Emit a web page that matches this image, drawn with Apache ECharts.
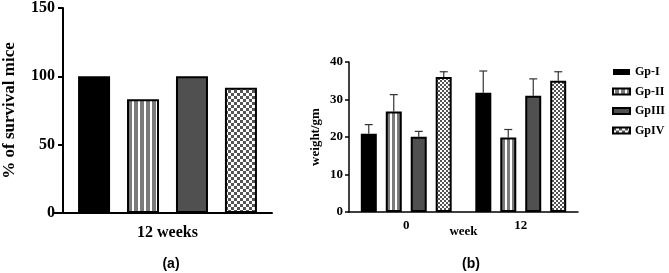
<!DOCTYPE html>
<html>
<head>
<meta charset="utf-8">
<script src="https://cdn.jsdelivr.net/npm/echarts@6/dist/echarts.min.js"></script>
<style>
  html, body { margin: 0; padding: 0; background: #fff; }
  #chart { width: 669px; height: 273px; }
</style>
</head>
<body>
<div id="chart"></div>
<script>
// groups shared by both panels
var groups = ["Gp-I", "Gp-II", "GpIII", "GpIV"];

// (a) survival
var survivalCategory = ["12 weeks"];
var survivalValues = [100, 83.3, 100, 91.7];
var survivalTicks = [0, 50, 100, 150];

// (b) body weight, mean and upper error per group at each week
var weightWeeks = ["0", "12"];
var weightMean = [
  [20.9, 31.8],
  [26.8, 19.9],
  [20.1, 31.0],
  [36.0, 35.0]
];
var weightErr = [
  [2.4, 5.8],
  [4.5, 2.1],
  [1.4, 4.5],
  [1.4, 2.4]
];

function stripePattern(period, white) {
  var c = document.createElement("canvas");
  c.width = period;
  c.height = 4;
  var ctx = c.getContext("2d");
  ctx.fillStyle = "#7b7b7b";
  ctx.fillRect(0, 0, period, 4);
  ctx.fillStyle = "#ffffff";
  ctx.fillRect(0, 0, white, 4);
  return { image: c, repeat: "repeat" };
}

function checkerPattern(size) {
  var c = document.createElement("canvas");
  c.width = size * 2;
  c.height = size * 2;
  var ctx = c.getContext("2d");
  ctx.fillStyle = "#ffffff";
  ctx.fillRect(0, 0, size * 2, size * 2);
  ctx.fillStyle = "#555555";
  ctx.fillRect(0, 0, size, size);
  ctx.fillRect(size, size, size, size);
  return { image: c, repeat: "repeat" };
}

var fillsA = ["#000000", stripePattern(6, 2), "#505050", checkerPattern(3)];
var fillsB = ["#000000", stripePattern(5, 2), "#505050", checkerPattern(2)];
var borders = [0, 2, 2, 2];

var serif = "Liberation Serif";
var barWidthB = 16;
var barStepB = 25;

var myChart = echarts.init(document.getElementById("chart"));

var series = [];
groups.forEach(function (g, i) {
  series.push({
    name: g,
    type: "bar",
    xAxisIndex: 0,
    yAxisIndex: 0,
    barWidth: 32,
    barGap: "53%",
    itemStyle: { color: fillsA[i], borderColor: "#000", borderWidth: borders[i] },
    data: survivalValues.slice(i, i + 1)
  });
});
groups.forEach(function (g, i) {
  series.push({
    name: g,
    type: "bar",
    xAxisIndex: 1,
    yAxisIndex: 1,
    barWidth: barWidthB,
    barGap: "56%",
    itemStyle: { color: fillsB[i], borderColor: "#000", borderWidth: borders[i] },
    data: weightMean[i]
  });
});
groups.forEach(function (g, i) {
  // upper error bars, offset to sit on top of each group's bar
  var offset = (i - 1.5) * barStepB;
  series.push({
    type: "custom",
    xAxisIndex: 1,
    yAxisIndex: 1,
    z: 1,
    silent: true,
    data: weightMean[i].map(function (m, k) {
      return [k, m, m + weightErr[i][k]];
    }),
    renderItem: function (params, api) {
      var base = api.coord([api.value(0), api.value(1)]);
      var top = api.coord([api.value(0), api.value(2)]);
      var x = base[0] + offset;
      var style = { stroke: "#333", lineWidth: 1.2 };
      return {
        type: "group",
        children: [
          { type: "line", shape: { x1: x, y1: base[1], x2: x, y2: top[1] }, style: style },
          { type: "line", shape: { x1: x - 4, y1: top[1], x2: x + 4, y2: top[1] }, style: style }
        ]
      };
    }
  });
});

var option = {
  animation: false,
  title: [
    { text: "(a)", left: 166, top: 252, textAlign: "center",
      textStyle: { fontFamily: "Liberation Sans", fontWeight: "bold", fontSize: 14, color: "#000" } },
    { text: "(b)", left: 466, top: 252, textAlign: "center",
      textStyle: { fontFamily: "Liberation Sans", fontWeight: "bold", fontSize: 14, color: "#000" } }
  ],
  legend: {
    data: groups,
    orient: "vertical",
    left: 612,
    bottom: 136,
    padding: 0,
    itemWidth: 17,
    itemHeight: 6,
    itemGap: 6.5,
    icon: "rect",
    textStyle: { fontFamily: serif, fontWeight: "bold", fontSize: 12, lineHeight: 13, color: "#000" }
  },
  grid: [
    { left: 60, right: 397, top: 8, bottom: 60 },
    { left: 349, right: 91, top: 62, bottom: 61 }
  ],
  xAxis: [
    {
      type: "category",
      gridIndex: 0,
      data: survivalCategory,
      axisLine: { lineStyle: { color: "#000", width: 2 } },
      axisTick: { alignWithLabel: true, length: 5, lineStyle: { color: "#000", width: 2 } },
      axisLabel: { margin: 12, fontFamily: serif, fontWeight: "bold", fontSize: 16, color: "#000" }
    },
    {
      type: "category",
      gridIndex: 1,
      data: weightWeeks,
      name: "week",
      nameLocation: "middle",
      nameGap: 13,
      nameMoveOverlap: false,
      nameTextStyle: { fontFamily: serif, fontWeight: "bold", fontSize: 13, color: "#000" },
      axisLine: { lineStyle: { color: "#000", width: 1.5 } },
      axisTick: { alignWithLabel: true, length: 4, lineStyle: { color: "#000", width: 1.5 } },
      axisLabel: { margin: 7, fontFamily: serif, fontWeight: "bold", fontSize: 13, color: "#000" }
    }
  ],
  yAxis: [
    {
      type: "value",
      gridIndex: 0,
      min: survivalTicks[0],
      max: survivalTicks[survivalTicks.length - 1],
      interval: survivalTicks[1] - survivalTicks[0],
      name: "% of survival mice",
      nameLocation: "middle",
      nameGap: 45,
      nameTextStyle: { fontFamily: serif, fontWeight: "bold", fontSize: 17, color: "#000" },
      axisLine: { show: true, lineStyle: { color: "#000", width: 2 } },
      axisTick: { show: true, length: 5, lineStyle: { color: "#000", width: 2 } },
      splitLine: { show: false },
      axisLabel: { margin: 8, fontFamily: serif, fontWeight: "bold", fontSize: 16, color: "#000" }
    },
    {
      type: "value",
      gridIndex: 1,
      min: 0,
      max: 40,
      interval: 10,
      name: "weight/gm",
      nameLocation: "middle",
      nameGap: 27,
      nameTextStyle: { fontFamily: serif, fontWeight: "bold", fontSize: 13, color: "#000" },
      axisLine: { show: true, lineStyle: { color: "#000", width: 1.5 } },
      axisTick: { show: true, length: 4, lineStyle: { color: "#000", width: 1.5 } },
      splitLine: { show: false },
      axisLabel: { margin: 6, fontFamily: serif, fontWeight: "bold", fontSize: 13, color: "#000" }
    }
  ],
  graphic: [
    // x axis of (a) runs a little past the y axis on the left
    { type: "line", shape: { x1: 53, y1: 213, x2: 60, y2: 213 }, style: { stroke: "#000", lineWidth: 2 } }
  ],
  series: series
};

myChart.setOption(option, true);
</script>
</body>
</html>
